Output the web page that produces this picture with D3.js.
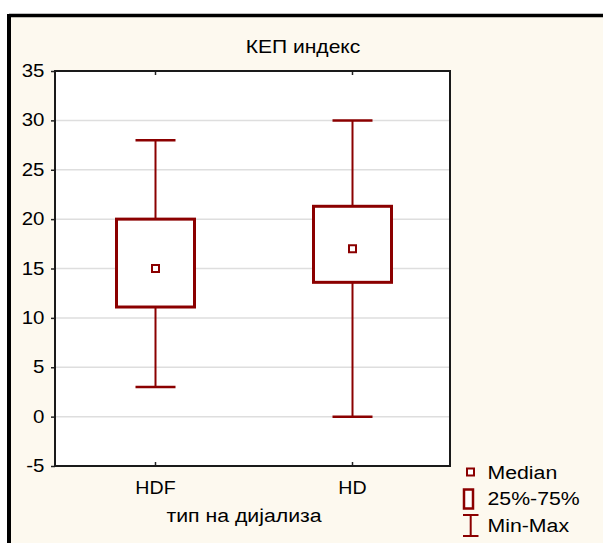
<!DOCTYPE html>
<html>
<head>
<meta charset="utf-8">
<script src="https://cdn.jsdelivr.net/npm/d3@7/dist/d3.min.js"></script>
<style>
  html, body { margin: 0; padding: 0; background: #ffffff; }
  svg { display: block; font-family: "Liberation Sans", Arial, sans-serif; }
</style>
</head>
<body>
<svg id="chart" width="603" height="543"></svg>
<script>
// Box-plot statistics per dialysis type
const categories = ["HDF", "HD"];
const minValues = [3, 0];
const q1Values = [11.1, 13.6];
const medianValues = [15, 17];
const q3Values = [20, 21.3];
const maxValues = [28, 30];
const yTickValues = [-5, 0, 5, 10, 15, 20, 25, 30, 35];

const chartTitle = "КЕП индекс";
const xTitle = "тип на дијализа";
const legendLabels = ["Median", "25%-75%", "Min-Max"];

const W = 603, H = 543;
const plot = { left: 55, right: 450, top: 71, bottom: 466 };
const markColor = "#8b0000";
const textStretch = 1.17;
const fontFamily = "Liberation Sans, Arial, sans-serif";

const svg = d3.select("#chart");

// page background, cream panel and its frame (top and left edges)
svg.append("rect").attr("width", W).attr("height", H).attr("fill", "#ffffff");
svg.append("rect").attr("x", 9).attr("y", 15.5).attr("width", W).attr("height", H)
  .attr("fill", "#fdf9ef");
svg.append("line").attr("x1", 9).attr("x2", W).attr("y1", 15.5).attr("y2", 15.5)
  .attr("stroke", "#000").attr("stroke-width", 3.5);
svg.append("line").attr("x1", 9).attr("x2", 9).attr("y1", 14).attr("y2", H)
  .attr("stroke", "#000").attr("stroke-width", 4);

// plot interior
svg.append("rect")
  .attr("x", plot.left).attr("y", plot.top)
  .attr("width", plot.right - plot.left).attr("height", plot.bottom - plot.top)
  .attr("fill", "#ffffff");

const y = d3.scaleLinear().domain([-5, 35]).range([plot.bottom, plot.top]);
const x = d3.scaleBand().domain(categories).range([plot.left + 2, plot.right + 1]).padding(0);
const cx = c => x(c) + x.bandwidth() / 2;

// horizontal grid lines
svg.append("g").selectAll("line")
  .data(yTickValues.filter(v => v > -5 && v < 35))
  .join("line")
  .attr("x1", plot.left).attr("x2", plot.right)
  .attr("y1", d => y(d)).attr("y2", d => y(d))
  .attr("stroke", "#dedede").attr("stroke-width", 1.5);

// y axis
const yAxis = svg.append("g")
  .attr("transform", `translate(${plot.left},0)`)
  .call(d3.axisLeft(y).tickValues(yTickValues).tickSize(4).tickPadding(5).tickFormat(d => String(d)));
yAxis.select(".domain").remove();
yAxis.selectAll(".tick line").attr("stroke", "#222").attr("stroke-width", 1.5);
yAxis.selectAll(".tick text")
  .attr("font-size", 17.5).attr("fill", "#000")
  .attr("font-family", fontFamily)
  .attr("transform", `scale(${textStretch},1)`);

// x axis (bottom labels, inward ticks)
const xAxis = svg.append("g")
  .attr("transform", `translate(0,${plot.bottom})`)
  .call(d3.axisBottom(x).tickSize(-4).tickPadding(16));
xAxis.select(".domain").remove();
xAxis.selectAll(".tick line").attr("stroke", "#222").attr("stroke-width", 1.5);
xAxis.selectAll(".tick text")
  .attr("font-size", 17.5).attr("fill", "#000")
  .attr("font-family", fontFamily)
  .attr("transform", `scale(${textStretch - 0.05},1)`);

// top inward ticks
const xTop = svg.append("g")
  .attr("transform", `translate(0,${plot.top})`)
  .call(d3.axisTop(x).tickSize(-4).tickFormat(""));
xTop.select(".domain").remove();
xTop.selectAll(".tick line").attr("stroke", "#222").attr("stroke-width", 1.5);

// plot frame
svg.append("rect")
  .attr("x", plot.left).attr("y", plot.top)
  .attr("width", plot.right - plot.left).attr("height", plot.bottom - plot.top)
  .attr("fill", "none").attr("stroke", "#1a1a1a").attr("stroke-width", 2);

// boxes
const boxW = 78, capW = 40, medS = 7;
const stats = categories.map((c, i) => ({
  c, min: minValues[i], q1: q1Values[i], med: medianValues[i], q3: q3Values[i], max: maxValues[i]
}));
const g = svg.append("g").selectAll("g").data(stats).join("g");

// whiskers
g.append("line")
  .attr("x1", d => cx(d.c)).attr("x2", d => cx(d.c))
  .attr("y1", d => y(d.max)).attr("y2", d => y(d.q3))
  .attr("stroke", markColor).attr("stroke-width", 2);
g.append("line")
  .attr("x1", d => cx(d.c)).attr("x2", d => cx(d.c))
  .attr("y1", d => y(d.q1)).attr("y2", d => y(d.min))
  .attr("stroke", markColor).attr("stroke-width", 2);
g.append("line")
  .attr("x1", d => cx(d.c) - capW / 2).attr("x2", d => cx(d.c) + capW / 2)
  .attr("y1", d => y(d.max)).attr("y2", d => y(d.max))
  .attr("stroke", markColor).attr("stroke-width", 2.5);
g.append("line")
  .attr("x1", d => cx(d.c) - capW / 2).attr("x2", d => cx(d.c) + capW / 2)
  .attr("y1", d => y(d.min)).attr("y2", d => y(d.min))
  .attr("stroke", markColor).attr("stroke-width", 2.5);

// interquartile box
g.append("rect")
  .attr("x", d => cx(d.c) - boxW / 2).attr("width", boxW)
  .attr("y", d => y(d.q3)).attr("height", d => y(d.q1) - y(d.q3))
  .attr("fill", "#ffffff").attr("stroke", markColor).attr("stroke-width", 3);

// median marker
g.append("rect")
  .attr("x", d => cx(d.c) - medS / 2).attr("width", medS)
  .attr("y", d => y(d.med) - medS / 2).attr("height", medS)
  .attr("fill", "#ffffff").attr("stroke", markColor).attr("stroke-width", 2);

// horizontally stretched text helper
function label(txt, px, py, size, anchor, sx) {
  svg.append("text")
    .attr("transform", `translate(${px},${py}) scale(${sx || textStretch},1)`)
    .attr("text-anchor", anchor).attr("font-size", size).attr("fill", "#000")
    .attr("font-family", fontFamily)
    .text(txt);
}

label(chartTitle, 303, 53, 18, "middle");
label(xTitle, 244, 522, 19, "middle", 1.12);

// legend
const lg = svg.append("g");
lg.append("rect").attr("x", 467).attr("y", 468.5).attr("width", 7).attr("height", 7)
  .attr("fill", "#fff").attr("stroke", markColor).attr("stroke-width", 2);
lg.append("rect").attr("x", 464).attr("y", 489.5).attr("width", 9).attr("height", 19)
  .attr("fill", "#fff").attr("stroke", markColor).attr("stroke-width", 2.5);
lg.append("line").attr("x1", 470.7).attr("x2", 470.7).attr("y1", 515).attr("y2", 536)
  .attr("stroke", markColor).attr("stroke-width", 2);
lg.append("line").attr("x1", 463).attr("x2", 478.5).attr("y1", 515).attr("y2", 515)
  .attr("stroke", markColor).attr("stroke-width", 2);
lg.append("line").attr("x1", 463).attr("x2", 478.5).attr("y1", 536).attr("y2", 536)
  .attr("stroke", markColor).attr("stroke-width", 2);

label(legendLabels[0], 487.5, 479, 19, "start", 1.12);
label(legendLabels[1], 487.5, 505, 19, "start", 1.12);
label(legendLabels[2], 487.5, 531.5, 19, "start", 1.12);
</script>
</body>
</html>
